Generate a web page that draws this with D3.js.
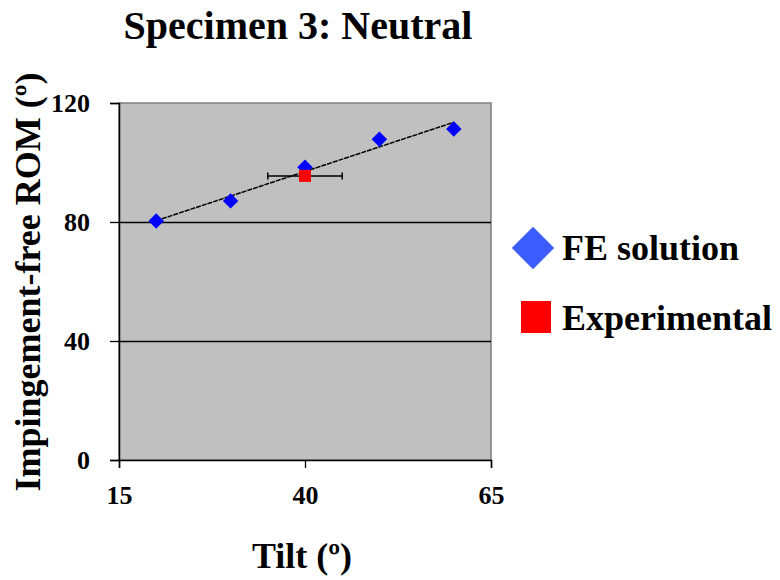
<!DOCTYPE html>
<html>
<head>
<meta charset="utf-8">
<script src="https://cdn.jsdelivr.net/npm/d3@7"></script>
<style>
  html, body { margin: 0; padding: 0; background: #fff; }
  svg { display: block; }
  text { font-family: "Liberation Serif", "Times New Roman", serif; font-weight: bold; fill: #000; }
</style>
</head>
<body>
<svg id="chart" width="780" height="580"></svg>
<script>
// ---- data ----
const tilt = [20, 30, 40, 50, 60];
const feRom = [80.3, 87.1, 98.4, 107.8, 111.3];
const expTilt = [40];
const expRom = [95.5];
const expTiltErr = [5];
const xTicks = [15, 40, 65];
const yTicks = [0, 40, 80, 120];
const legendLabels = ["FE solution", "Experimental"];
const titleText = "Specimen 3: Neutral";
const xLabel = "Tilt (º)";
const yLabel = "Impingement-free ROM (º)";

// ---- layout ----
const svg = d3.select("#chart");
const plot = { left: 119, right: 491, top: 103, bottom: 460 };

const x = d3.scaleLinear().domain([15, 65]).range([plot.left, plot.right]);
const y = d3.scaleLinear().domain([0, 120]).range([plot.bottom, plot.top]);

// plot background
svg.append("rect")
  .attr("x", plot.left).attr("y", plot.top)
  .attr("width", plot.right - plot.left).attr("height", plot.bottom - plot.top)
  .attr("fill", "#c0c0c0")
  .attr("stroke", "#808080").attr("stroke-width", 1.5);

// gridlines
svg.append("g").selectAll("line")
  .data(yTicks.filter(d => d > 0 && d < 120))
  .join("line")
  .attr("x1", plot.left).attr("x2", plot.right)
  .attr("y1", d => Math.round(y(d)) + 0.5).attr("y2", d => Math.round(y(d)) + 0.5)
  .attr("stroke", "#000").attr("stroke-width", 1.5);

// y axis
const yAxis = d3.axisLeft(y).tickValues(yTicks).tickSize(9).tickPadding(20).tickFormat(d3.format("d"));
const gy = svg.append("g").attr("transform", `translate(${plot.left},0)`).call(yAxis);
gy.select(".domain").attr("stroke", "#000").attr("stroke-width", 1.5);
gy.selectAll(".tick line").attr("stroke", "#000").attr("stroke-width", 1.3);
gy.selectAll(".tick text").style("font-size", "26px").style("font-family", "'Liberation Serif', serif").style("font-weight", "bold");

// x axis
const xAxis = d3.axisBottom(x).tickValues(xTicks).tickSize(8).tickPadding(18).tickFormat(d3.format("d"));
const gx = svg.append("g").attr("transform", `translate(0,${plot.bottom})`).call(xAxis);
gx.select(".domain").attr("stroke", "#000").attr("stroke-width", 1.5);
gx.selectAll(".tick line").attr("stroke", "#000").attr("stroke-width", 1.3);
gx.selectAll(".tick text").style("font-size", "26px").style("font-family", "'Liberation Serif', serif").style("font-weight", "bold");

// linear trendline fitted to FE points
const mx = d3.mean(tilt), my = d3.mean(feRom);
const slope = d3.sum(tilt, (t, i) => (t - mx) * (feRom[i] - my)) / d3.sum(tilt, t => (t - mx) ** 2);
const intercept = my - slope * mx;
const trendX = d3.extent(tilt);
svg.append("path")
  .datum(trendX.map(t => [t, intercept + slope * t]))
  .attr("d", d3.line().x(d => x(d[0])).y(d => y(d[1])))
  .attr("fill", "none").attr("stroke", "#000").attr("stroke-width", 1.5)
  .attr("stroke-dasharray", "5,1");

// FE diamonds
const diamond = d3.symbol().type(d3.symbolSquare).size(120);
svg.append("g").selectAll("path")
  .data(tilt.map((t, i) => [t, feRom[i]]))
  .join("path")
  .attr("d", diamond)
  .attr("transform", d => `translate(${x(d[0])},${y(d[1])}) rotate(45)`)
  .attr("fill", "#0000ff");

// experimental error bars
const eg = svg.append("g");
expTilt.forEach((t, i) => {
  const yy = y(expRom[i]);
  eg.append("line").attr("x1", x(t - expTiltErr[i])).attr("x2", x(t + expTiltErr[i]))
    .attr("y1", yy).attr("y2", yy).attr("stroke", "#000").attr("stroke-width", 1.5);
  [t - expTiltErr[i], t + expTiltErr[i]].forEach(v => {
    eg.append("line").attr("x1", x(v)).attr("x2", x(v))
      .attr("y1", yy - 3.5).attr("y2", yy + 3.5).attr("stroke", "#000").attr("stroke-width", 1.5);
  });
});

// experimental squares
svg.append("g").selectAll("rect")
  .data(expTilt.map((t, i) => [t, expRom[i]]))
  .join("rect")
  .attr("x", d => x(d[0]) - 6).attr("y", d => y(d[1]) - 6)
  .attr("width", 12).attr("height", 12)
  .attr("fill", "#ff0000");

// title
svg.append("text").attr("x", 298).attr("y", 39).attr("text-anchor", "middle")
  .style("font-size", "40px").text(titleText);

// axis labels
svg.append("text").attr("x", 302).attr("y", 568).attr("text-anchor", "middle")
  .style("font-size", "36px").text(xLabel);
svg.append("text").attr("transform", "translate(40,282) rotate(-90)").attr("text-anchor", "middle")
  .style("font-size", "36px").text(yLabel);

// legend
const lg = svg.append("g");
lg.append("path").attr("d", d3.symbol().type(d3.symbolSquare).size(900))
  .attr("transform", "translate(533,248) rotate(45)").attr("fill", "#3d5cff");
lg.append("rect").attr("x", 521).attr("y", 301).attr("width", 30).attr("height", 32).attr("fill", "#ff0000");
lg.append("text").attr("x", 562).attr("y", 260).style("font-size", "36px").text(legendLabels[0]);
lg.append("text").attr("x", 562).attr("y", 330).style("font-size", "36px").text(legendLabels[1]);
</script>
</body>
</html>
